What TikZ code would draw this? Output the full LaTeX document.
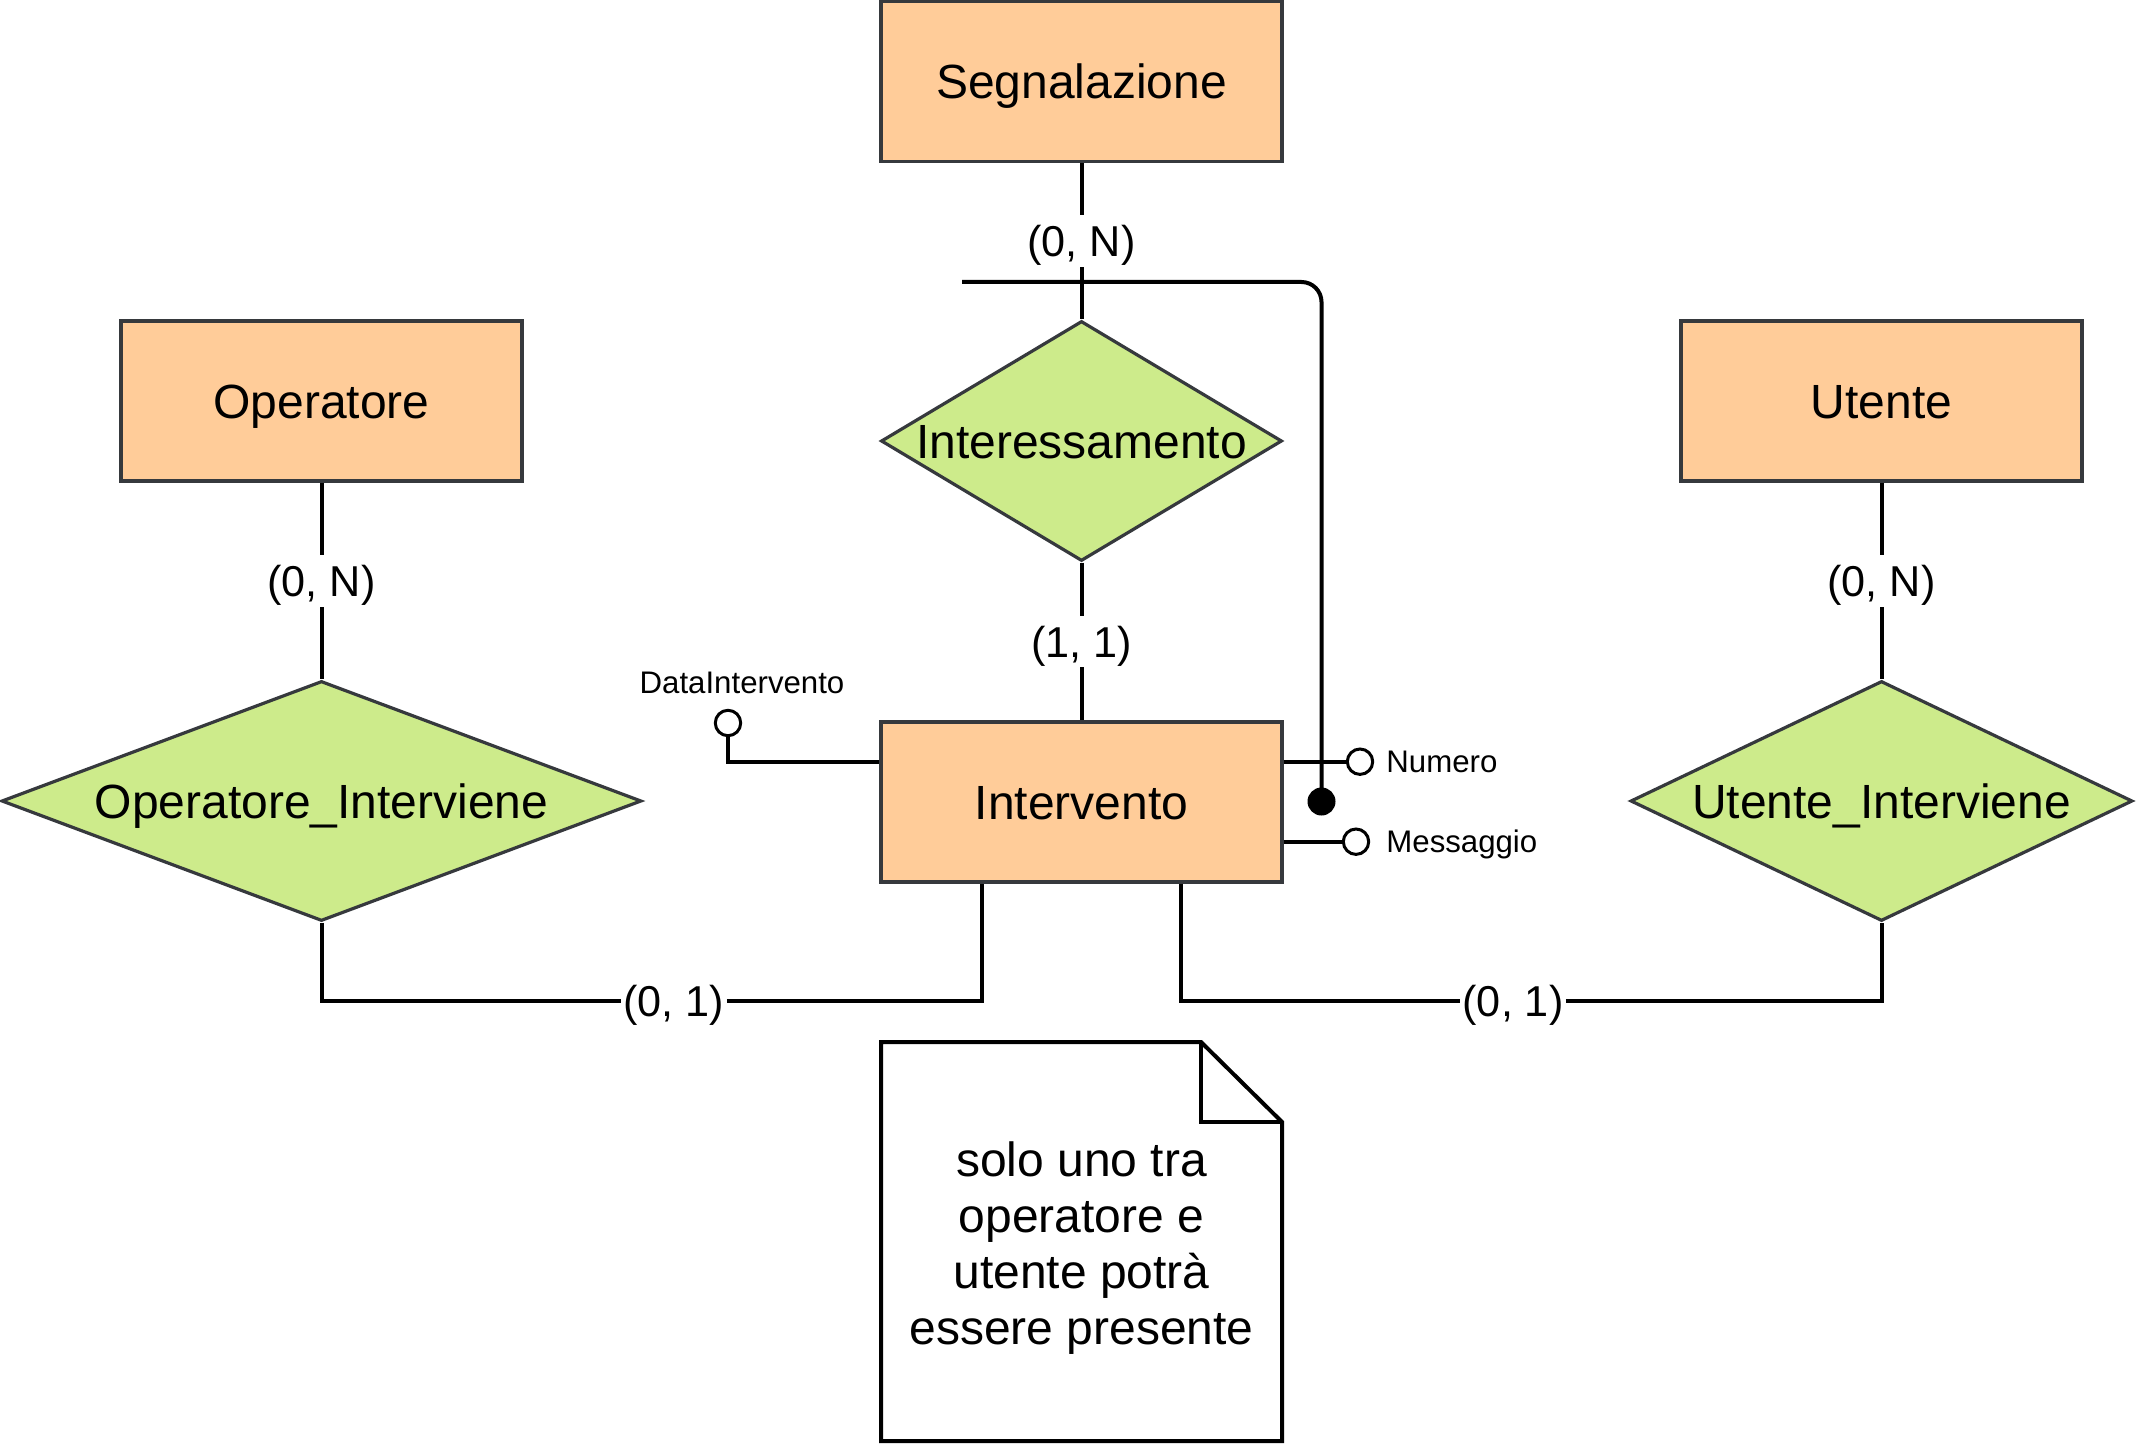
\documentclass[tikz,border=0pt]{standalone}
\usepackage{fontspec}
\setmainfont{Liberation Sans}
\usetikzlibrary{shapes.geometric}
\definecolor{entfill}{HTML}{FFCC99}
\definecolor{entdraw}{HTML}{36393D}
\definecolor{relfill}{HTML}{CDEB8B}
\begin{document}
\begin{tikzpicture}[x=0.5pt,y=-0.5pt,
 bigbox/.style={font=\fontsize{24}{28}\selectfont, text height=23pt, text depth=5.8pt},
 entity/.style={rectangle, draw=entdraw, fill=entfill, line width=1.6pt, minimum width=200.5pt, minimum height=80pt, inner sep=0pt, bigbox},
 rel/.style={diamond, draw=entdraw, fill=relfill, line width=1.6pt, minimum height=120pt, inner sep=0pt},
 reltext/.style={inner sep=0pt, bigbox},
 card/.style={fill=white, inner xsep=1pt, inner ysep=0pt, font=\fontsize{21.6}{25}\selectfont, text height=20.7pt, text depth=5.2pt},
 conn/.style={line width=2pt, draw=black},
 attr/.style={circle, draw=black, fill=white, line width=1.5pt, minimum size=12.7pt, inner sep=0pt},
 attrlabel/.style={font=\fontsize{15.6}{18}\selectfont, inner sep=0pt, text height=14.9pt, text depth=3.8pt},
 keydot/.style={circle, fill=black, minimum size=14pt, inner sep=0pt},
 notetext/.style={font=\fontsize{24}{27.9}\selectfont, align=center, inner sep=0pt},
 noteline/.style={line width=2pt, draw=black, line join=miter}
]
\fill[white] (0,0) rectangle (2136,1444);
\useasboundingbox (0,0) rectangle (2136,1444);

% entities
\node[entity] (seg) at (1081.5,81.5) {Segnalazione};
\node[entity] (oper) at (321.5,401) {Operatore};
\node[entity] (uten) at (1881.5,401) {Utente};
\node[entity] (interv) at (1081.5,802) {Intervento};

% relationships
\node[rel, minimum width=200.5pt] (inter) at (1081.5,441) {};
\node[reltext] (intert) at (inter) {Interessamento};
\node[rel, minimum width=320pt] (opint) at (321.5,801) {};
\node[reltext] (opintt) at (opint) {Operatore\_Interviene};
\node[rel, minimum width=251pt] (utint) at (1881.5,801) {};
\node[reltext] (utintt) at (utint) {Utente\_Interviene};

% helper coordinates
\coordinate (ileft) at (982,0);
\coordinate (iright) at (1181,0);
\coordinate (ks) at (962,282);
\coordinate (dy) at (0,762);

% key dot
\node[keydot] (kd) at (1321.5,801.5) {};

% connectors with cardinalities
\draw[conn] (seg.south) -- node[card]{(0, N)} (inter.north);
\draw[conn] (inter.south) -- node[card]{(1, 1)} (interv.north);
\draw[conn] (oper.south) -- node[card]{(0, N)} (opint.north);
\draw[conn] (uten.south) -- node[card]{(0, N)} (utint.north);

\node[card] (c1) at (674,1001) {(0, 1)};
\draw[conn] (opint.south) |- (c1.west);
\draw[conn] (c1.east) -| (interv.south -| ileft);

\node[card] (c2) at (1513,1001) {(0, 1)};
\draw[conn] (interv.south -| iright) |- (c2.west);
\draw[conn] (c2.east) -| (utint.south);

% attributes
\node[attr] (numc) at (1360,761.7) {};
\node[attrlabel, anchor=west] (numl) at (1386,761.7) {Numero};
\draw[conn] (interv.east |- numc) -- (numc.west);

\node[attr] (msgc) at (1356,841.7) {};
\node[attrlabel, anchor=west] (msgl) at (1386,841.7) {Messaggio};
\draw[conn] (interv.east |- msgc) -- (msgc.west);

\node[attr] (dic) at (728,723) {};
\node[attrlabel] (dil) at (742,682) {DataIntervento};
\draw[conn] (dic.south) |- (interv.west |- dy);

% external identifier line
\draw[conn, rounded corners=10pt] (ks) -- (ks -| kd) -- (kd.center);

% note
\draw[noteline, fill=white] (881,1042) -- (1201,1042) -- (1282,1122) -- (1282,1441) -- (881,1441) -- cycle;
\draw[noteline] (1201,1042) -- (1201,1122) -- (1282,1122);
\node[notetext] (note) at (1081.5,1248) {solo uno tra\\operatore e\\utente potrà\\essere presente};
\end{tikzpicture}
\end{document}
